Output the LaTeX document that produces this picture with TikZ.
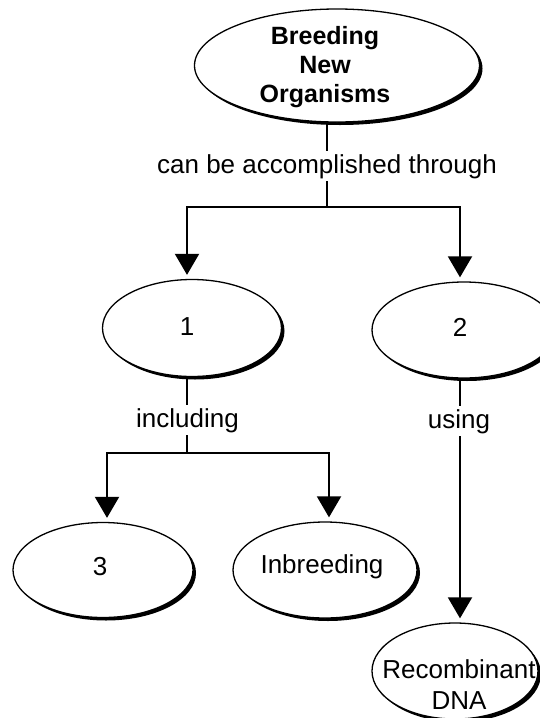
\documentclass[tikz,border=0pt]{standalone}
\usepackage{fontspec}
\setmainfont{Liberation Sans}
\usetikzlibrary{arrows.meta,shapes.geometric}
\newcommand\conceptoval[5]{%
  \node[ovalshadow, minimum width=#4, minimum height=#5] (#1s) at (#2+3,#3+3) {};
  \node[oval, minimum width=#4, minimum height=#5] (#1) at (#2,#3) {};
}
\begin{document}
\begin{tikzpicture}[x=1pt,y=-1pt,
  oval/.style={ellipse, draw=black, line width=1.3pt, fill=white, inner sep=0pt},
  ovalshadow/.style={ellipse, fill=black, inner sep=0pt},
  word/.style={font=\fontsize{26}{31}\selectfont, align=center, inner sep=0pt},
  headword/.style={font=\fontsize{25}{29}\selectfont\bfseries, align=center, inner sep=0pt},
  lbl/.style={font=\fontsize{26}{31}\selectfont, fill=white, inner sep=3pt, anchor=base},
  link/.style={line width=2pt},
  arr/.style={line width=2pt, -{Triangle[length=21pt,width=24pt]}, shorten >=4pt}]
\useasboundingbox (0,0) rectangle (540,718);
\fill[white] (0,0) rectangle (540,718);

% ovals
\conceptoval{topE}{337}{65.5}{285}{113}
\conceptoval{e1}{192}{328}{179}{97}
\conceptoval{e2}{464}{330}{184}{96}
\conceptoval{e3}{103}{570}{180}{95}
\conceptoval{eI}{325}{570}{184}{96}
\conceptoval{eR}{455}{671}{166}{96}

% texts
\node[headword] (top) at (325,67.5) {Breeding\\New\\Organisms};
\node[word] (n1) at (187,327) {1};
\node[word] (n2) at (460,327) {2};
\node[word] (n3) at (100,567) {3};
\node[word] (nI) at (322,567) {Inbreeding};
\node[word] (nR) at (459,684.5) {Recombinant\\DNA};

% branch points
\coordinate (b1) at (327,207);
\coordinate (b2) at (187,453);

% connectors
\draw[link] (b1 |- topE.south) -- (b1);
\draw[arr] (b1) -| (n1 |- e1.north);
\draw[arr] (b1) -| (n2 |- e2.north);
\node[lbl] (l1) at (327,173) {can be accomplished through};

\draw[link] (n1 |- e1.south) -- (b2);
\draw[arr] (b2) -| ([xshift=4pt]e3.north);
\draw[arr] (b2) -| ([xshift=4pt]eI.north);
\node[lbl] (l2) at (187.5,427) {including};

\draw[arr] (n2 |- e2.south) -- (n2 |- eR.north);
\node[lbl] (l3) at (459,428) {using};
\end{tikzpicture}
\end{document}
